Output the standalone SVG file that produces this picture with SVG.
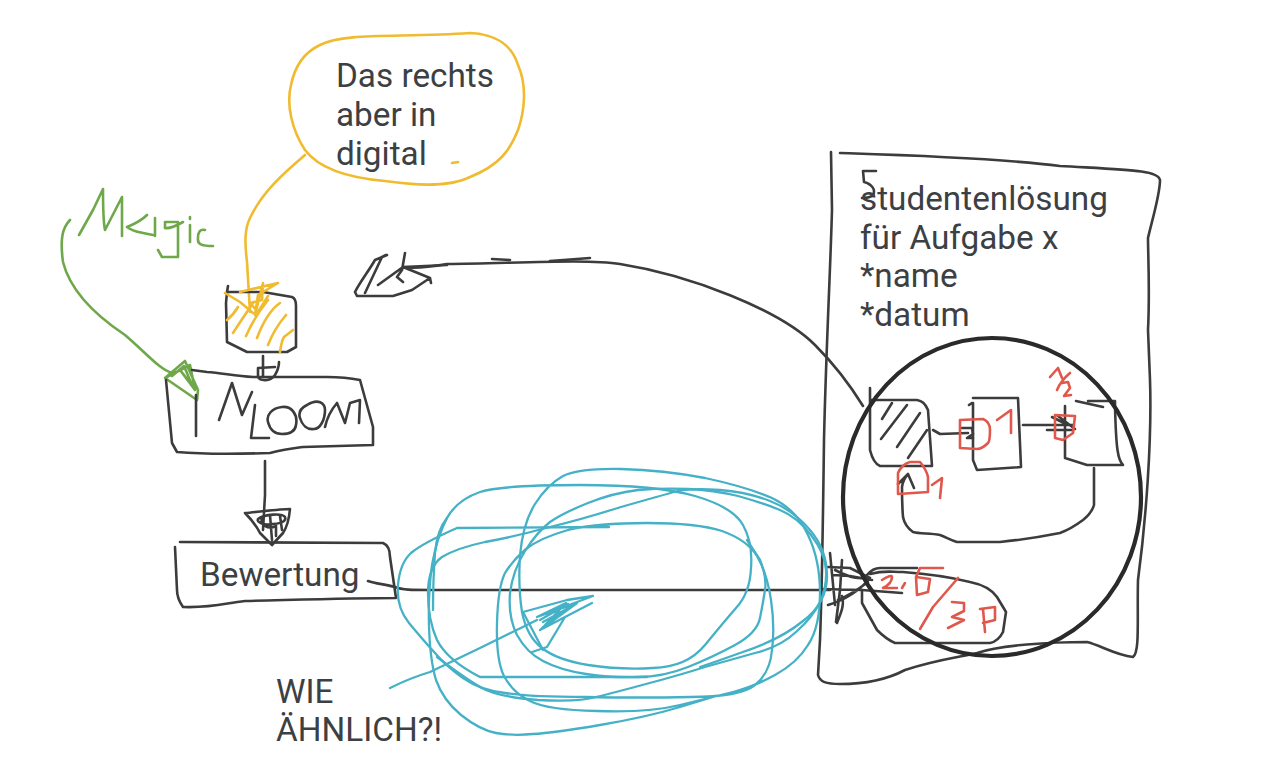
<svg xmlns="http://www.w3.org/2000/svg" width="1278" height="776" viewBox="0 0 1278 776">
<style>
text{font-family:Roboto,"Liberation Sans",sans-serif;font-size:33.3px;fill:#3d4043}
path,ellipse{fill:none;stroke-linecap:round;stroke-linejoin:round}
.k{stroke:#3c3c3c;stroke-width:2.6}
.y{stroke:#f0bb2e;stroke-width:2.6}
.g{stroke:#6fa84a;stroke-width:2.6}
.b{stroke:#45b1c6;stroke-width:2.3}
.r{stroke:#e0584c;stroke-width:2.6}
</style>
<rect width="1278" height="776" fill="#fff"/>
<g id="connectors">
<path class="k" d="M368 581C376 584 385 584 395 587C402 590 412 590 430 590L830 590"/>
<path class="k" d="M265 461L265 495L263 530"/>
<path class="k" d="M263 356L263 377"/>
<path class="k" d="M863 406C850 385 835 365 815 345C780 310 690 275 620 264C590 259 520 263 447 264C430 267 415 269 403 267"/>
<path class="k" d="M492 259L510 260M550 261L590 258"/>
<path class="y" d="M305 155C285 172 262 192 250 218C244 230 245 245 247 262L250 312"/>
<path class="g" d="M70 220C62 228 60 240 63 262C70 290 95 315 125 335C145 352 160 370 172 373"/>
</g>
<g id="node-note">
<path class="y" d="M452 163L458 162M320 45C345 32 400 38 470 33C495 34 512 45 518 65C527 85 525 110 518 130C510 150 500 165 470 177C450 187 420 186 385 181C350 178 320 170 305 150C292 130 286 105 291 85C295 65 305 52 320 45Z"/>
<text x="336" y="87">Das rechts</text><text x="336" y="126">aber in</text><text x="336" y="165">digital</text>
</g>
<g id="node-magic">
<path class="g" d="M79 235L93 210L103 189C103 205 103 220 105 230L122 197L122 236"/>
<path class="g" d="M147 215C140 222 132 225 127 227C132 231 138 232 143 233L153 235M155 218L155 236M165 228L165 222L178 222L178 257L162 257L158 250M165 228C170 229 176 226 183 222M190 217L190 219M190 225L190 242M205 230C200 229 198 232 198 238C197 245 203 246 213 246"/>
<path class="g" d="M165 378L185 361L198 390L197 400L165 378L190 365L195 390L180 370L192 385L184 366L172 376"/>
</g>
<g id="node-small-box">
<path class="k" d="M228 286L227 292L263 292L292 297C295 298 296 302 296 306L296 347L287 352L247 352L227 342L226 303L227 292"/>
<path class="k" d="M258 368L275 367M258 368L258 377C260 381 270 382 275 375C278 370 279 366 279 362"/>
<path class="y" d="M225 293L240 302L253 313M240 292L278 283L258 295L255 315L263 283L262 300L250 303L258 312L268 296M227 320C232 316 235 312 238 307M233 333C240 322 247 312 253 303M246 336C252 322 260 310 268 300M257 338C263 322 270 310 280 303M268 345C273 332 280 322 286 315M280 352C281 345 282 340 284 337L293 330"/>
</g>
<g id="node-nloom">
<path class="k" d="M196 395L196 436M166 380L172 443L177 452C200 454 240 454 270 453C285 449 295 448 303 447L373 445L373 427L360 380C350 378 340 377 327 377L253 377C235 376 222 373 207 372L192 370"/>
<path class="k" d="M219 420L232 383L242 415L252 392"/>
<path class="k" d="M255 405L251 438L269 438M282 407C272 408 266 415 268 422C270 430 275 434 282 434C290 434 295 432 296 425C298 415 292 406 282 407ZM307 405C301 408 298 412 300 418C302 425 307 430 314 429C320 429 325 420 325 410C325 403 318 398 307 405ZM325 427C327 418 331 410 337 403L345 423L350 403L360 400L359 423"/>
</g>
<g id="node-bewertung">
<path class="k" d="M180 542L383 543C388 545 390 550 390 557L396 598C350 598 290 600 245 601C225 603 215 608 183 607C178 600 177 595 177 590L175 547"/>
<path class="k" d="M245 513C258 512 280 509 290 509C289 520 287 527 283 533L272 545L260 533C256 525 250 518 245 513Z"/>
<path class="k" d="M258 519C265 514 282 513 285 517C287 522 278 524 272 524C264 526 256 522 258 519ZM262 518C260 525 268 530 276 526M270 515L272 540M280 516L282 530M276 525L276 536" stroke-width="3"/>
<text x="200" y="586">Bewertung</text>
</g>
<g id="node-wie">
<text x="276" y="703">WIE</text><text x="276" y="741">ÄHNLICH?!</text>
</g>
<g id="node-document">
<path class="k" d="M831 152L832 210C830 280 826 350 824 440C823 520 822 590 820 640L818 675C820 682 826 684 840 684C870 684 890 678 905 670C935 660 960 657 977 653C1000 645 1050 642 1087 642C1100 645 1115 655 1133 657C1140 652 1137 620 1138 580C1146 520 1152 440 1150 380L1148 330C1150 290 1148 255 1148 238C1152 220 1160 195 1160 180C1158 170 1130 170 1060 166C1000 158 900 155 840 153"/>
<path class="k" d="M863 171L876 171M863 171L864 182C872 184 876 190 873 195C870 198 866 198 862 198"/>
<text x="860" y="210">studentenlösung</text><text x="860" y="249">für Aufgabe x</text><text x="860" y="287">*name</text><text x="860" y="326">*datum</text>
</g>
<g id="node-inner-boxes">
<path class="k" d="M870 388L870 450C872 458 875 464 880 466L932 466L928 410C925 403 922 401 917 400L870 400"/>
<path class="k" d="M882 419L892 403M881 439L907 405M897 447L920 413M908 458L927 430"/>
<path class="k" d="M933 430L940 434L968 433M962 428L972 428L973 434L967 438L973 438"/>
<path class="k" d="M969 405L972 403M973 398L1018 398L1021 467L977 470L973 460L973 403"/>
<path class="k" d="M1023 425L1073 425M1052 417L1068 425M1047 430L1073 430M1058 416L1075 429M1065 406L1065 458L1087 465L1123 465C1118 460 1116 450 1115 405L1115 401L1088 401M1076 401L1103 407"/>
<path class="k" d="M1094 468L1094 505C1092 512 1088 516 1083 520C1075 526 1068 530 1060 533C1040 537 1020 540 1000 542L957 542C950 540 946 537 940 535C930 533 920 534 913 532C906 527 904 522 903 517C902 505 902 495 902 487C903 480 905 477 908 474L914 488M898 484L908 474"/>
</g>
<g id="node-score">
<path class="k" d="M867 575C872 569 876 568 880 568L917 568M870 574C885 570 890 572 903 572C930 574 950 577 970 582C985 585 992 590 997 597L1006 612L1003 632C1000 638 995 642 990 643L895 643C888 640 882 635 877 630L862 603L862 590"/>
<path class="k" d="M830 553L835 605M842 560L840 590L836 622M828 567L850 568L870 578M833 575L850 576L872 580M835 570C850 578 860 580 868 577M820 589L862 590L902 593M828 605C845 600 860 590 870 578M838 600C850 595 860 588 868 582M837 623C840 615 845 605 842 596"/>
</g>
<g id="node-red-marks">
<path class="r" d="M960 420L983 419C988 421 990 425 990 430C990 437 990 441 988 443C984 447 981 449 977 449L960 448L960 420M997 420L1011 410L1011 433"/>
<path class="r" d="M1055 415L1075 416L1073 433L1063 440L1055 438L1055 415M1050 377L1058 368L1062 378M1057 390C1060 383 1064 378 1070 373M1062 383L1068 382L1070 388L1064 396L1071 395"/>
<path class="r" d="M898 473C900 468 905 463 910 462L920 462C925 468 927 472 928 477L928 492L898 494L898 473M932 485L942 478L940 498"/>
<path class="r" d="M882 580C888 576 892 575 892 577C892 582 887 586 883 588L897 588M902 588L905 583M943 568L920 568L916 577L917 595L928 592L930 579L916 577M958 578L933 607L920 629M952 602L964 603L964 611L952 617L964 620L948 628M980 609L995 607L995 620L983 623M983 609L985 632"/>
</g>
<g id="node-scribble">
<path class="b" d="M609 527L457 528Q423 543 411 553Q400 563 398 585Q396 607 409 623Q423 640 435 653Q447 667 463 678Q480 690 505 693Q530 697 585 697Q640 698 690 697Q740 697 755 685Q770 673 772 650Q775 627 771 600Q767 573 757 556Q747 540 722 531Q697 523 647 523Q597 523 568 530Q540 538 526 549Q513 560 505 573Q498 587 497 623Q496 660 504 676Q513 693 530 701Q547 710 597 711Q647 713 680 705Q713 697 733 692Q753 687 775 675Q797 663 808 645Q820 627 820 593Q820 560 808 535Q797 510 772 498Q747 487 705 478Q663 470 621 469Q580 468 563 476Q547 485 535 504Q523 523 520 555Q518 587 522 612Q527 637 542 648Q557 660 588 665Q620 670 653 668Q687 667 705 645Q723 623 736 608Q750 593 751 568Q753 543 743 525Q733 507 695 496Q657 485 580 485Q503 485 480 492Q457 500 447 518Q437 537 432 565Q428 593 429 626Q430 660 436 680Q443 700 461 715Q480 730 496 733Q513 736 533 734Q553 733 600 725Q647 717 680 707L713 697"/>
<path class="b" d="M437 657Q463 677 480 687Q497 697 538 700Q580 702 596 697Q613 693 646 684Q680 675 705 667Q730 660 755 653Q780 647 796 632Q813 617 820 602Q827 587 826 570Q825 553 811 535Q797 517 780 510Q763 503 738 496Q713 490 688 489Q663 488 638 490Q613 493 588 503Q563 513 550 522Q537 532 525 551Q513 570 510 593Q508 617 517 635Q527 653 543 661Q560 670 586 674Q613 678 638 677Q663 677 688 667Q713 657 735 645Q757 633 760 618Q763 603 765 590Q767 577 760 560L747 540"/>
<path class="b" d="M647 677L480 677Q447 660 437 640Q428 620 428 593Q428 567 442 557Q457 548 485 542Q513 537 546 528Q580 520 621 507Q663 495 678 491Q693 488 720 490Q747 492 770 501Q793 510 810 530Q827 550 827 576Q827 603 803 621Q780 640 740 653Q715 662 700 667"/>
<path class="b" d="M433 610Q433 580 435 553Q437 530 447 518"/>
<path class="b" d="M390 688Q410 678 430 672Q455 660 480 648L537 620M523 612L567 600L593 596L537 617L577 603L540 630L592 603L565 617L547 647L532 652M523 612L543 650M537 617L566 603L545 625L570 608L542 628L560 612M540 620L568 604M543 622L572 606"/>
</g>
<g id="node-loupe">
<ellipse cx="992" cy="497" rx="149" ry="159" stroke="#2a2a2a" stroke-width="4.2"/>
</g>
<g id="node-arrow-scrawl">
<path class="k" d="M387 255L375 260C368 272 360 282 355 292L357 296L393 296L412 290L430 278L431 283M365 293L382 257L386 255M378 285L403 267L430 278M405 253L402 270L397 277L403 282M403 267L447 265"/>
</g>
</svg>
